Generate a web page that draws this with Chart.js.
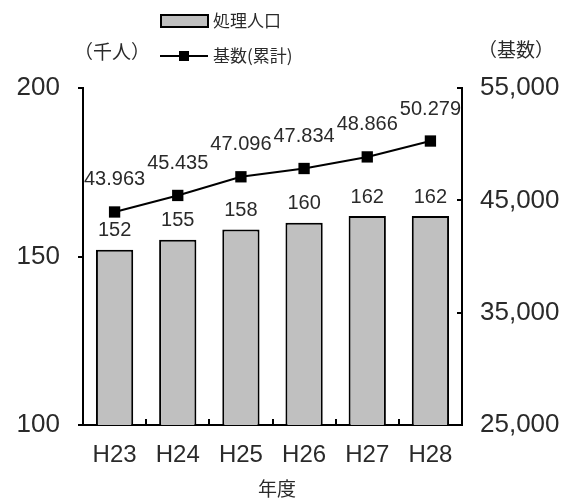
<!DOCTYPE html>
<html>
<head>
<meta charset="utf-8">
<script src="https://cdn.jsdelivr.net/npm/chart.js@4.4.1/dist/chart.umd.min.js"></script>
<style>
  body { margin: 0; background: #fff; }
  #wrap { width: 574px; height: 500px; }
</style>
</head>
<body>
<div id="wrap"><canvas id="myChart" width="574" height="500"></canvas></div>
<script>
var years = ['H23', 'H24', 'H25', 'H26', 'H27', 'H28'];
var population = [152, 155, 158, 160, 162, 162];           // 処理人口 (千人)
var units = [43963, 45435, 47096, 47834, 48866, 50279];    // 基数(累計)
var leftTicks = [100, 150, 200];
var rightTicks = [25000, 35000, 45000, 55000];

var FONT = '"Liberation Sans", Arial, sans-serif';
var JP = '"Noto Sans CJK JP", sans-serif';
var TEXT = '#2a2a2a';

function dotSep(v) {
  return String(v).replace(/\B(?=(\d{3})+(?!\d))/g, '.');
}

// legend, unit captions, value labels and the small inward ticks
var extras = {
  id: 'extras',
  afterDraw: function(chart) {
    var ctx = chart.ctx;
    var area = chart.chartArea;
    var x = chart.scales.x, y2 = chart.scales.y2;
    ctx.save();

    // inward ticks on the right axis
    ctx.strokeStyle = '#000';
    ctx.lineWidth = 2;
    rightTicks.forEach(function(t) {
      var py = Math.round(y2.getPixelForValue(t));
      ctx.beginPath();
      ctx.moveTo(area.right, py);
      ctx.lineTo(area.right - 5, py);
      ctx.stroke();
    });
    // category separators along the bottom
    for (var i = 1; i < years.length; i++) {
      var px = Math.round((x.getPixelForValue(i - 1) + x.getPixelForValue(i)) / 2);
      ctx.beginPath();
      ctx.moveTo(px, area.bottom);
      ctx.lineTo(px, area.bottom - 6);
      ctx.stroke();
    }

    // value labels
    ctx.fillStyle = TEXT;
    ctx.font = '20px ' + FONT;
    ctx.textAlign = 'center';
    ctx.textBaseline = 'bottom';
    chart.getDatasetMeta(0).data.forEach(function(bar, i) {
      ctx.fillText(population[i], bar.x, bar.y - 9);
    });
    chart.getDatasetMeta(1).data.forEach(function(pt, i) {
      ctx.fillText(dotSep(units[i]), pt.x, pt.y - 22);
    });

    // legend
    ctx.fillStyle = '#c0c0c0';
    ctx.fillRect(161, 15, 47, 12);
    ctx.strokeStyle = '#000';
    ctx.lineWidth = 2;
    ctx.strokeRect(161, 15, 47, 12);
    ctx.beginPath();
    ctx.moveTo(160, 56);
    ctx.lineTo(208, 56);
    ctx.stroke();
    ctx.fillStyle = '#000';
    ctx.fillRect(179, 51, 10, 10);

    ctx.fillStyle = TEXT;
    ctx.font = '17px ' + JP;
    ctx.textAlign = 'left';
    ctx.textBaseline = 'middle';
    ctx.fillText('処理人口', 213, 21);
    ctx.fillText('基数(累計)', 213, 56);

    // unit captions and x title
    ctx.font = '19px ' + JP;
    ctx.textAlign = 'center';
    ctx.fillText('（千人）', 112, 52);
    ctx.fillText('（基数）', 516, 50);
    ctx.fillText('年度', 277, 489);
    ctx.restore();
  }
};

var ctx = document.getElementById('myChart').getContext('2d');
var myChart = new Chart(ctx, {
  type: 'bar',
  data: {
    labels: years,
    datasets: [{
      label: '処理人口',
      data: population,
      yAxisID: 'y',
      backgroundColor: '#c0c0c0',
      borderColor: '#000',
      borderWidth: 2,
      barPercentage: 0.59,
      categoryPercentage: 1,
      order: 2
    }, {
      type: 'line',
      label: '基数(累計)',
      data: units,
      yAxisID: 'y2',
      borderColor: '#000',
      borderWidth: 2,
      pointStyle: 'rect',
      pointRadius: 8,
      pointBackgroundColor: '#000',
      pointBorderWidth: 0,
      fill: false,
      order: 1
    }]
  },
  options: {
    responsive: false,
    animation: false,
    layout: { padding: { top: 88, left: 0, right: 0, bottom: 0 } },
    plugins: {
      legend: { display: false },
      tooltip: { enabled: false }
    },
    scales: {
      x: {
        grid: { display: false },
        border: { color: '#000', width: 2 },
        ticks: { color: TEXT, font: { family: FONT, size: 24 }, padding: 8 },
        afterFit: function(s) { s.height = 75; }
      },
      y: {
        position: 'left',
        min: 100,
        max: 200,
        afterBuildTicks: function(s) { s.ticks = leftTicks.map(function(v) { return { value: v }; }); },
        grid: { drawOnChartArea: false, color: '#000', lineWidth: 2, tickLength: 5 },
        border: { color: '#000', width: 2 },
        ticks: { color: TEXT, font: { family: FONT, size: 26 }, padding: 18 },
        afterFit: function(s) { s.width = 83; }
      },
      y2: {
        position: 'right',
        min: 25000,
        max: 55000,
        afterBuildTicks: function(s) { s.ticks = rightTicks.map(function(v) { return { value: v }; }); },
        grid: { display: false },
        border: { color: '#000', width: 2 },
        ticks: {
          color: TEXT,
          font: { family: FONT, size: 26 },
          padding: 10,
          callback: function(v) { return v.toLocaleString('en-US'); }
        },
        afterFit: function(s) { s.width = 112; }
      }
    }
  },
  plugins: [extras]
});
</script>
</body>
</html>
